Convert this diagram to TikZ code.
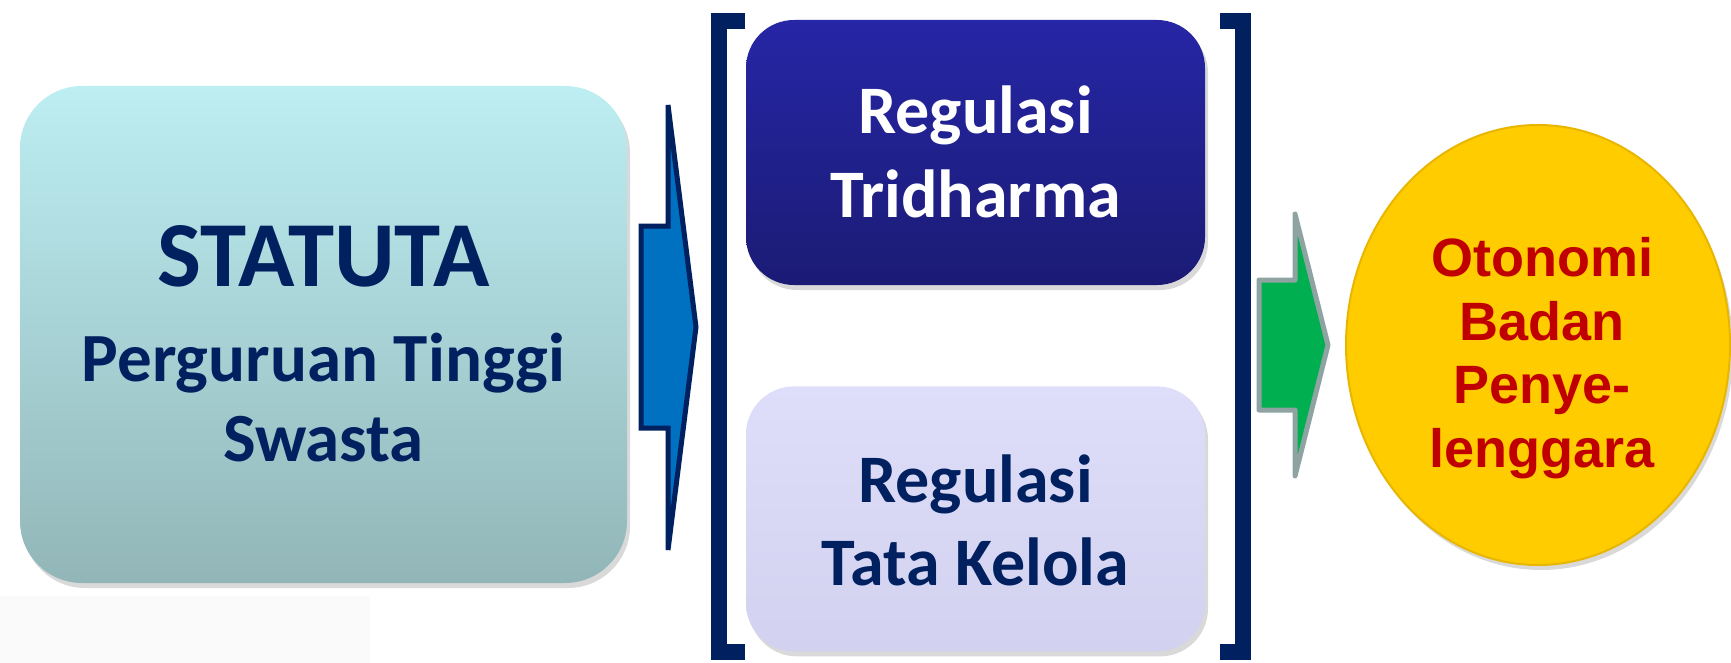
\documentclass[tikz,border=0pt]{standalone}
\usepackage{fontspec}
\newfontfamily\calibri{Carlito}
\newfontfamily\arialfont{Liberation Sans}
\usetikzlibrary{positioning,shapes.geometric,shadows}

\definecolor{navy}{HTML}{002060}
\definecolor{statTop}{HTML}{BDEEF2}
\definecolor{statBot}{HTML}{92B6B8}
\definecolor{triTop}{HTML}{2626A6}
\definecolor{triBot}{HTML}{1B1B75}
\definecolor{tataTop}{HTML}{DEDEFA}
\definecolor{tataBot}{HTML}{D2D2F0}
\definecolor{arrBlue}{HTML}{0070C0}
\definecolor{arrGreen}{HTML}{00B050}
\definecolor{arrEdge}{HTML}{8FA3A3}
\definecolor{gold}{HTML}{FFCC00}
\definecolor{goldEdge}{HTML}{E8B600}
\definecolor{darkRed}{HTML}{C00000}

\tikzset{
    softshadow/.style={drop shadow={shadow xshift=3pt, shadow yshift=-5pt, opacity=.3}},
    statbox/.style={rounded corners=62pt, minimum width=607pt, minimum height=497pt,
        inner sep=0pt, top color=statTop, bottom color=statBot, softshadow},
    regbox/.style={rounded corners=48pt, minimum width=459pt, minimum height=265pt,
        inner sep=0pt, softshadow},
    bracket/.style={draw=navy, line width=16pt},
    bigtxt/.style={anchor=base, text=navy, font=\calibri\bfseries\fontsize{93}{100}\selectfont},
    midtxt/.style={anchor=base, text=navy, font=\calibri\bfseries\fontsize{69}{80}\selectfont},
    regtxt/.style={anchor=base, font=\calibri\bfseries\fontsize{68}{80}\selectfont},
    goaltxt/.style={anchor=base, text=darkRed, font=\arialfont\bfseries\fontsize{54}{64}\selectfont}
}

\begin{document}
\begin{tikzpicture}[x=1pt, y=-1pt]
    \useasboundingbox (0,0) rectangle (1731,663);
    \fill[black!2] (0,596) rectangle (370,663);

    % statuta
    \node[statbox] (statuta) at (323.5,334.5) {};
    \node[bigtxt] (statTitle) at (323.5,286) {STATUTA};
    \node[midtxt] (statPT) at (323.5,381) {Perguruan Tinggi};
    \node[midtxt] (statSw) at (323.5,461) {Swasta};

    % blue block arrow
    \draw[fill=arrBlue, draw=navy, line width=5pt]
        (641,226) -- (668,226) -- (668,105) -- (696,327) -- (668,550)
        -- (668,428) -- (641,428) -- cycle;

    % regulasi boxes
    \node[regbox, top color=triTop, bottom color=triBot] (tridharma) at (975.5,152.5) {};
    \node[regbox, top color=tataTop, bottom color=tataBot, below = 101pt of tridharma] (tatakelola) {};
    \node[regtxt, text=white] (triA) at (975.5,134) {Regulasi};
    \node[regtxt, text=white] (triB) at (975.5,218) {Tridharma};
    \node[regtxt, text=navy] (tataA) at (975.5,502) {Regulasi};
    \node[regtxt, text=navy] (tataB) at (975.5,585) {Tata Kelola};

    % brackets
    \draw[bracket] (745,21) -- (719,21) -- (719,652) -- (745,652);
    \draw[bracket] (1220,21) -- (1243,21) -- (1243,652) -- (1220,652);

    % green block arrow
    \draw[fill=arrGreen, draw=arrEdge, line width=5pt, line join=round]
        (1259,280) -- (1295,280) -- (1295,214) -- (1328,345) -- (1295,476)
        -- (1295,410) -- (1259,410) -- cycle;

    % otonomi
    \node[ellipse, fill=gold, draw=goldEdge, line width=2pt, inner sep=0pt,
        minimum width=384pt, minimum height=440pt, softshadow] (otonomi) at (1538,345) {};
    \node[goaltxt] (otA) at (1542,276) {Otonomi};
    \node[goaltxt] (otB) at (1542,340) {Badan};
    \node[goaltxt] (otC) at (1542,403) {Penye-};
    \node[goaltxt] (otD) at (1542,467) {lenggara};
\end{tikzpicture}
\end{document}
